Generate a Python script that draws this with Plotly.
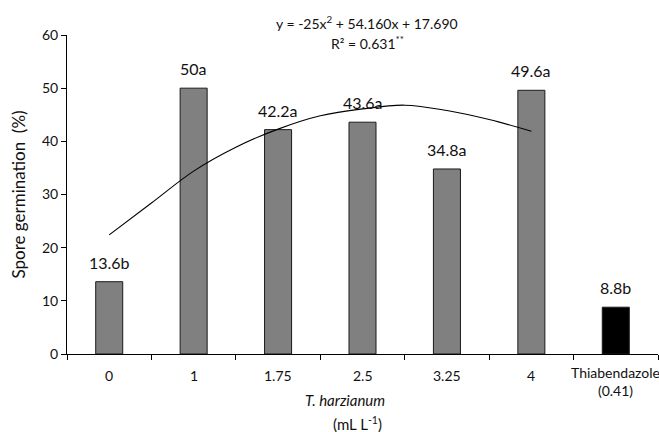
import plotly.graph_objects as go

categories = ["0", "1", "1.75", "2.5", "3.25", "4", "Thiabendazole<br>(0.41)"]
values = [13.6, 50, 42.2, 43.6, 34.8, 49.6, 8.8]
letters = ["b", "a", "a", "a", "a", "a", "b"]
bar_colors = ["#808080"] * 6 + ["#000000"]

# regression curve (x in category-position units)
curve_x = [0, 0.5, 1, 1.5, 2, 2.5, 3, 3.5, 4, 4.5, 5]
curve_y = [22.4, 28.4, 34.4, 38.9, 42.3, 44.8, 46.1, 46.8, 45.8, 44.1, 41.9]

y_ticks = [0, 10, 20, 30, 40, 50, 60]

FONT = "Lato, 'DejaVu Sans', sans-serif"
pos = list(range(len(categories)))

fig = go.Figure()
fig.add_trace(go.Bar(
    x=pos, y=values, width=0.32,
    marker=dict(color=bar_colors, line=dict(color="#1a1a1a", width=1)),
    showlegend=False, hoverinfo="skip",
))
fig.add_trace(go.Scatter(
    x=curve_x, y=curve_y, mode="lines",
    line=dict(color="#000000", width=1.1, shape="spline"),
    showlegend=False, hoverinfo="skip",
))

for p, v, l in zip(pos, values, letters):
    fig.add_annotation(x=p, y=v, text=f"{v:g}{l}", showarrow=False,
                       yanchor="bottom", yshift=8,
                       font=dict(family=FONT, size=16, color="#111111"))

# category labels below the axis
for p, c in zip(pos, categories):
    two = "<br>" in c
    fig.add_annotation(x=p, xref="x", yref="paper", y=0,
                       yshift=-8 if two else -21,
                       yanchor="top" if two else "middle", align="center",
                       text=c, showarrow=False,
                       font=dict(family=FONT, size=14, color="#111111"))

fig.add_annotation(xref="paper", yref="paper", x=0.508, y=1.0, yshift=13,
                   yanchor="middle",
                   text="y = -25x<sup>2</sup> + 54.160x + 17.690", showarrow=False,
                   font=dict(family=FONT, size=14, color="#111111"))
fig.add_annotation(xref="paper", yref="paper", x=0.508, y=1.0, yshift=-7,
                   yanchor="middle",
                   text="R² = 0.631<sup>**</sup>", showarrow=False,
                   font=dict(family=FONT, size=14, color="#111111"))

fig.add_annotation(xref="paper", yref="paper", x=0.470, y=0, yshift=-46,
                   yanchor="middle",
                   text="<i>T. harzianum</i>", showarrow=False,
                   font=dict(family=FONT, size=15, color="#111111"))
fig.add_annotation(xref="paper", yref="paper", x=0.491, y=0, yshift=-69,
                   yanchor="middle",
                   text="(mL L<sup>-1</sup>)", showarrow=False,
                   font=dict(family=FONT, size=15, color="#111111"))

fig.update_layout(
    width=659, height=432,
    margin=dict(l=67, r=1, t=35, b=78),
    plot_bgcolor="white", paper_bgcolor="white",
    font=dict(family=FONT, size=14, color="#111111"),
    xaxis=dict(
        range=[-0.5, 6.5], tickvals=pos, showticklabels=False,
        ticks="", showline=True, linecolor="#000000", linewidth=1,
        showgrid=False, zeroline=False,
        minor=dict(tickvals=[i - 0.5 for i in range(len(categories) + 1)],
                   ticks="outside", ticklen=5, tickcolor="#000000", showgrid=False),
    ),
    yaxis=dict(
        range=[0, 60], tickvals=y_ticks, ticks="outside", ticklen=5,
        tickcolor="#000000", showline=True, linecolor="#000000", linewidth=1,
        showgrid=False, zeroline=False, tickfont=dict(size=14),
        title=dict(text="Spore germination  (%)", font=dict(size=17), standoff=12),
    ),
)

fig.write_html("out.html")
